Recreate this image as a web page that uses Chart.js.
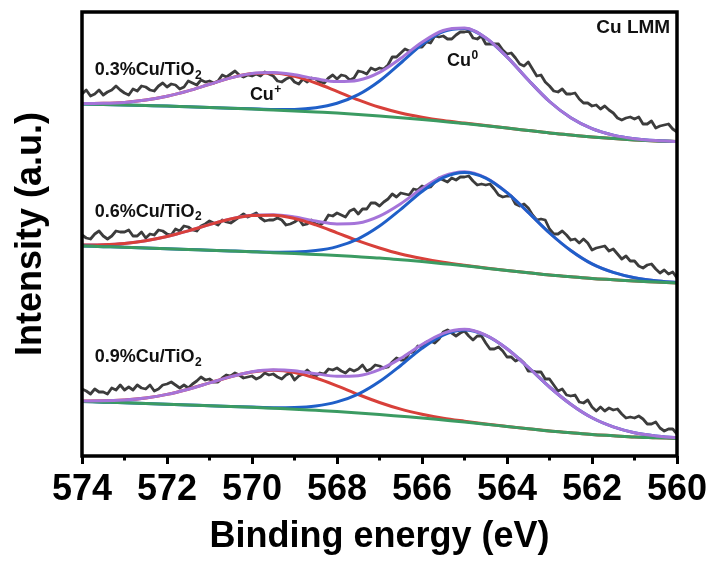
<!DOCTYPE html>
<html>
<head>
<meta charset="utf-8">
<script src="https://cdn.jsdelivr.net/npm/chart.js@4/dist/chart.umd.min.js"></script>
<style>
  html, body { margin: 0; padding: 0; background: #fff; }
  #wrap { width: 714px; height: 567px; }
</style>
</head>
<body>
<div id="wrap"><canvas id="chart" width="714" height="567"></canvas></div>
<script>
// x ticks (binding energy, eV)
const X_TICKS = [574, 572, 570, 568, 566, 564, 562, 560];
const MINOR_TICKS = [573, 571, 569, 567, 565, 563, 561];

// energy grid of the measured spectra
const E_RAW = [
  574,573.9,573.8,573.7,573.6,573.5,573.4,573.3,573.2,573.1,
  573,572.9,572.8,572.7,572.6,572.5,572.4,572.3,572.2,572.1,
  572,571.9,571.8,571.7,571.6,571.5,571.4,571.3,571.2,571.1,
  571,570.9,570.8,570.7,570.6,570.5,570.4,570.3,570.2,570.1,
  570,569.9,569.8,569.7,569.6,569.5,569.4,569.3,569.2,569.1,
  569,568.9,568.8,568.7,568.6,568.5,568.4,568.3,568.2,568.1,
  568,567.9,567.8,567.7,567.6,567.5,567.4,567.3,567.2,567.1,
  567,566.9,566.8,566.7,566.6,566.5,566.4,566.3,566.2,566.1,
  566,565.9,565.8,565.7,565.6,565.5,565.4,565.3,565.2,565.1,
  565,564.9,564.8,564.7,564.6,564.5,564.4,564.3,564.2,564.1,
  564,563.9,563.8,563.7,563.6,563.5,563.4,563.3,563.2,563.1,
  563,562.9,562.8,562.7,562.6,562.5,562.4,562.3,562.2,562.1,
  562,561.9,561.8,561.7,561.6,561.5,561.4,561.3,561.2,561.1,
  561,560.9,560.8,560.7,560.6,560.5,560.4,560.3,560.2,560.1,
  560
];

// energy grid of the fitted curves
const E_FIT = [574,573.5,573,572.5,572,571.5,571,570.5,570,569.5,569,568.5,568,567.5,567,
               566.5,566,565.5,565,564.5,564,563.5,563,562.5,562,561.5,561,560.5,560];

// 0.3%Cu/TiO2 (offset intensity, a.u.)
const RAW_03 = [
  362,366,360,362,366, 361,364,366,370,366, 363,361,367,365,370, 369,366,365,370,373,
  369,372,371,367,369, 375,373,371,376,374, 375,373,375,381,379, 382,385,381,379,381,
  380,382,380,384,382, 380,375,374,377,379, 374,372,377,374,378, 377,374,373,378,381,
  377,381,380,376,378, 385,384,382,388,386, 388,387,391,399,399, 403,407,405,405,409,
  409,414,413,420,419, 420,417,417,421,424, 424,425,418,417,420, 412,412,412,412,406,
  402,403,398,392,390, 394,387,380,381,374, 370,365,364,367,362, 362,363,357,353,353,
  350,351,347,350,346, 343,338,336,338,339, 337,339,332,332,335, 328,330,331,332,327,
  324
];
const BG_03  = [352,351.5,351,350.5,350,349.2,348.5,347.8,347,346,345,344,343,341.6,340,338.3,336.5,334.5,332.5,330.3,328,325.5,323,321,319,317.4,316,315,314.5];
const CUP_03 = [352.5,352.7,353.6,355.9,359.7,365.1,371.7,378.1,382.4,383,379.6,373,364.7,356.1,348.7,343,338.8,335.5,332.9,330.4,328,325.5,323,321,319,317.4,316,315,314.5];
const CU0_03 = [352,351.5,351,350.5,350,349.2,348.5,347.8,347.2,346.5,346.6,348.2,352.7,361.3,375,393,411.5,424.5,427.5,418.1,399.1,376,354.5,338.2,327.3,320.9,317.3,315.4,314.6];
const ENV_03 = [352.5,352.7,353.6,355.9,359.7,365.1,371.7,378.1,382.6,383.5,381.2,377.2,374.4,375.8,383.7,397.7,413.8,425.5,427.9,418.2,399.1,376,354.5,338.2,327.3,320.9,317.3,315.4,314.6];

// 0.6%Cu/TiO2
const RAW_06 = [
  221,218,217,222,225, 220,217,220,225,224, 224,226,220,220,224, 218,222,221,226,225,
  222,221,227,225,230, 229,226,225,230,232, 235,233,231,236,234, 233,236,239,242,239,
  241,243,238,235,236, 236,238,236,231,232, 234,237,231,232,236, 232,231,234,241,240,
  243,241,239,245,247, 242,247,247,253,253, 250,254,257,262,259, 263,262,261,267,266,
  270,268,269,274,278, 276,274,278,276,279, 279,280,275,271,272, 271,272,267,261,259,
  260,260,252,250,252, 248,241,236,237,236, 227,222,222,225,221, 216,217,213,217,213,
  206,208,209,210,205, 207,202,197,200,195, 195,190,188,191,192, 187,183,186,182,184,
  178
];
const BG_06  = [210,209.35,208.7,208,207.3,206.55,205.8,205,204.2,203.35,202.5,201.5,200.5,199.25,198,196.25,194.5,192.35,190.2,187.85,185.5,183.25,181,179.25,177.5,176.25,175,174,173];
const CUP_06 = [210.9,211.3,212.6,215.3,219.5,225.1,231.4,237,240.5,240.8,237.5,231.1,223.2,215.1,208,202,197.5,193.8,190.8,188.1,185.6,183.3,181,179.25,177.5,176.25,175,174,173];
const CU0_06 = [210,209.35,208.7,208,207.3,206.55,205.8,205.05,204.35,203.85,204,205.4,209.4,217.2,229.9,246.6,264.5,278.4,283.6,277.9,263.3,243.6,223,205.5,192.1,183.6,178.3,175.3,173.5];
const ENV_06 = [210.9,211.3,212.6,215.3,219.5,225.1,231.4,237.1,240.7,241.3,239,235,232.1,233,239.9,252.3,267.5,279.8,284.2,278.1,263.4,243.6,223,205.5,192.1,183.6,178.3,175.3,173.5];

// 0.9%Cu/TiO2
const RAW_09 = [
  67,65,62,67,64, 64,62,68,66,71, 66,69,66,71,68, 67,71,65,67,71,
  72,74,71,68,71, 68,72,75,79,76, 77,74,74,78,81, 80,83,81,78,79,
  80,77,79,83,81, 82,79,77,81,83, 76,80,82,86,82, 80,83,82,87,86,
  88,85,83,87,85, 87,91,85,87,91, 90,88,89,94,98, 96,96,103,104,110,
  109,114,115,113,117, 124,126,123,120,123, 125,120,116,120,120, 113,107,107,109,105,
  99,99,95,97,93, 85,85,84,84,77, 77,71,65,67,61, 60,61,54,53,56,
  49,45,49,45,48, 46,47,42,38,39, 38,40,37,32,32, 34,28,25,27,27,
  22
];
const BG_09  = [54.5,53.85,53.2,52.5,51.8,51.05,50.3,49.5,48.7,47.75,46.8,45.65,44.5,43,41.5,39.75,38,36,34,31.75,29.5,27.25,25,23.25,21.5,20.25,19,18.25,17.5];
const CUP_09 = [55.05,55.15,56.05,58.1,61.6,66.75,73.1,79.3,84.1,85.65,83.6,77.95,70.2,61.5,53.5,46.85,41.8,37.8,34.8,32.05,29.6,27.25,25,23.25,21.5,20.25,19,18.25,17.5];
const CU0_09 = [54.5,53.85,53.2,52.5,51.8,51.05,50.3,49.55,48.9,48.35,48.55,50,54.1,61.85,74.4,90.55,107.7,120.9,125.9,120.55,107.2,88.75,69,51.75,38.2,29.15,23.3,20.1,18.2];
const ENV_09 = [55.05,55.15,56.05,58.1,61.6,66.75,73.1,79.35,84.3,86.25,85.35,82.3,79.8,80.35,86.4,97.65,111.5,122.7,126.7,120.85,107.3,88.75,69,51.75,38.2,29.15,23.3,20.1,18.2];

const FONT = "'Liberation Sans', Arial, Helvetica, sans-serif";
const C_RAW = '#3c3c3c', C_BG = '#3b9b62', C_CUP = '#d8403a', C_CU0 = '#1f5fc8', C_ENV = '#a574d9';

function line(xs, ys, color, width, order, smooth) {
  return {
    data: xs.map((x, i) => ({ x, y: ys[i] })),
    borderColor: color,
    borderWidth: width,
    pointRadius: 0,
    fill: false,
    order,
    tension: smooth ? 0.4 : 0,
    cubicInterpolationMode: smooth ? 'monotone' : 'default',
    borderJoinStyle: 'round'
  };
}

const datasets = [
  // top
  line(E_RAW, RAW_03, C_RAW, 2.8, 5, false),
  line(E_FIT, CUP_03, C_CUP, 3, 4, true),
  line(E_FIT, CU0_03, C_CU0, 3, 3, true),
  line(E_FIT, BG_03, C_BG, 3, 2, true),
  line(E_FIT, ENV_03, C_ENV, 3, 1, true),
  // middle (envelope under the components)
  line(E_RAW, RAW_06, C_RAW, 2.8, 5, false),
  line(E_FIT, ENV_06, C_ENV, 3, 4, true),
  line(E_FIT, CUP_06, C_CUP, 3, 3, true),
  line(E_FIT, CU0_06, C_CU0, 3, 2, true),
  line(E_FIT, BG_06, C_BG, 3, 1, true),
  // bottom
  line(E_RAW, RAW_09, C_RAW, 2.8, 5, false),
  line(E_FIT, CUP_09, C_CUP, 3, 4, true),
  line(E_FIT, CU0_09, C_CU0, 3, 3, true),
  line(E_FIT, BG_09, C_BG, 3, 2, true),
  line(E_FIT, ENV_09, C_ENV, 3, 1, true)
];

// text with a sub- or superscript tail
function scriptText(ctx, x, y, base, tail, sup, size, align) {
  ctx.font = `bold ${size}px ${FONT}`;
  const w1 = ctx.measureText(base).width;
  const small = Math.round(size * 0.68);
  ctx.font = `bold ${small}px ${FONT}`;
  const w2 = tail ? ctx.measureText(tail).width : 0;
  let x0 = align === 'right' ? x - w1 - w2 : x;
  ctx.font = `bold ${size}px ${FONT}`;
  ctx.fillText(base, x0, y);
  if (tail) {
    ctx.font = `bold ${small}px ${FONT}`;
    ctx.fillText(tail, x0 + w1 + 0.5, sup ? y - size * 0.38 : y + size * 0.22);
  }
}

const decor = {
  id: 'decor',
  afterDatasetsDraw(chart) {
    const { ctx, chartArea: a, scales: { x, y } } = chart;
    ctx.save();
    ctx.strokeStyle = '#000';
    ctx.lineWidth = 3.5;
    ctx.strokeRect(a.left, a.top, a.right - a.left, a.bottom - a.top);
    ctx.lineWidth = 3;
    MINOR_TICKS.forEach(v => {
      const px = x.getPixelForValue(v);
      ctx.beginPath();
      ctx.moveTo(px, a.bottom);
      ctx.lineTo(px, a.bottom + 4.5);
      ctx.stroke();
    });
    ctx.fillStyle = '#111';
    ctx.textBaseline = 'alphabetic';
    ctx.textAlign = 'left';
    scriptText(ctx, x.getPixelForValue(573.7), y.getPixelForValue(381), '0.3%Cu/TiO', '2', false, 18);
    scriptText(ctx, x.getPixelForValue(573.7), y.getPixelForValue(239.5), '0.6%Cu/TiO', '2', false, 18);
    scriptText(ctx, x.getPixelForValue(573.7), y.getPixelForValue(94), '0.9%Cu/TiO', '2', false, 18);
    scriptText(ctx, x.getPixelForValue(570.05), y.getPixelForValue(356), 'Cu', '+', true, 18);
    scriptText(ctx, x.getPixelForValue(565.41), y.getPixelForValue(390), 'Cu', '0', true, 18);
    scriptText(ctx, x.getPixelForValue(560.16), y.getPixelForValue(423), 'Cu LMM', '', false, 19, 'right');
    ctx.restore();
  }
};

new Chart(document.getElementById('chart'), {
  type: 'line',
  data: { datasets },
  options: {
    responsive: false,
    animation: false,
    events: [],
    layout: { padding: { left: 8, right: 37, top: 12, bottom: 0 } },
    plugins: { legend: { display: false }, tooltip: { enabled: false } },
    scales: {
      x: {
        type: 'linear',
        reverse: true,
        min: 560,
        max: 574,
        afterBuildTicks: s => { s.ticks = X_TICKS.map(v => ({ value: v })); },
        ticks: {
          autoSkip: false,
          maxRotation: 0,
          padding: 4,
          color: '#000',
          font: { family: FONT, size: 36, weight: 'bold' }
        },
        grid: { drawOnChartArea: false, drawTicks: true, tickLength: 8, tickWidth: 3, color: '#000' },
        border: { display: false },
        title: {
          display: true,
          text: 'Binding energy (eV)',
          color: '#000',
          font: { family: FONT, size: 36, weight: 'bold' },
          padding: { top: 0, bottom: 8.6 }
        }
      },
      y: {
        type: 'linear',
        min: 0,
        max: 444,
        ticks: { display: false },
        grid: { display: false, drawTicks: false },
        border: { display: false },
        title: {
          display: true,
          text: 'Intensity (a.u.)',
          color: '#000',
          font: { family: FONT, size: 36, weight: 'bold' },
          padding: { top: 1.4, bottom: 29.4 }
        }
      }
    }
  },
  plugins: [decor]
});
</script>
</body>
</html>
